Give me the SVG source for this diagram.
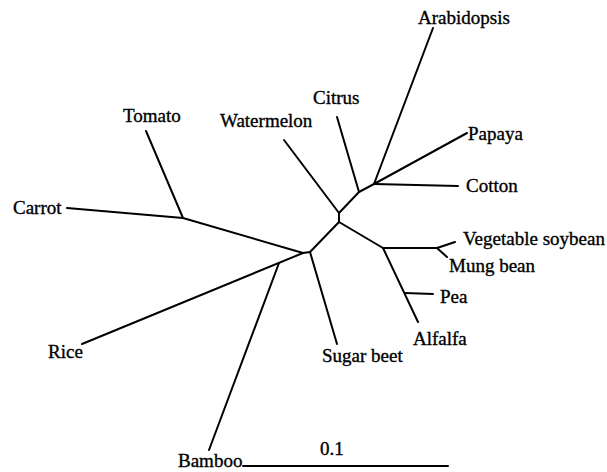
<svg xmlns="http://www.w3.org/2000/svg" width="607" height="472" viewBox="0 0 607 472">
<style>
.e{stroke:#000;stroke-width:2;fill:none;stroke-linecap:round;stroke-linejoin:round}
text{font-family:"Liberation Serif","Times New Roman",serif;font-size:19px;fill:#000;stroke:#000;stroke-width:0.35}
</style>
<rect width="607" height="472" fill="#fff"/>
<g id="connectors">
<path class="e" d="M67,208 L183,218 L303,253 L310,252"/>
<path class="e" d="M146,131 L183,218"/>
<path class="e" d="M303,253 L82,344"/>
<path class="e" d="M279,263 L209,450"/>
<path class="e" d="M310,252 L337,344"/>
<path class="e" d="M310,252 L339,222 L339,213"/>
<path class="e" d="M284,140 L339,213"/>
<path class="e" d="M339,213 L359,192 L374,184"/>
<path class="e" d="M337,117 L359,192"/>
<path class="e" d="M374,184 L433,28"/>
<path class="e" d="M374,184 L467,133"/>
<path class="e" d="M374,184 L458,186"/>
<path class="e" d="M339,222 L383,248 L437,248"/>
<path class="e" d="M437,248 L455,242"/>
<path class="e" d="M437,248 L447,257"/>
<path class="e" d="M383,248 L418,322"/>
<path class="e" d="M405,293 L433,294"/>
<path class="e" d="M243,466 L448,466"/>
</g>
<g id="n-arabidopsis"><text x="418" y="24">Arabidopsis</text></g>
<g id="n-citrus"><text x="313" y="104">Citrus</text></g>
<g id="n-papaya"><text x="468" y="140">Papaya</text></g>
<g id="n-tomato"><text x="123" y="122">Tomato</text></g>
<g id="n-watermelon"><text x="220" y="127">Watermelon</text></g>
<g id="n-cotton"><text x="466" y="192">Cotton</text></g>
<g id="n-carrot"><text x="13" y="214">Carrot</text></g>
<g id="n-vegsoy"><text x="463" y="245">Vegetable soybean</text></g>
<g id="n-mung"><text x="449" y="272">Mung bean</text></g>
<g id="n-pea"><text x="440" y="303">Pea</text></g>
<g id="n-alfalfa"><text x="413" y="345">Alfalfa</text></g>
<g id="n-sugarbeet"><text x="322" y="362">Sugar beet</text></g>
<g id="n-rice"><text x="48" y="358">Rice</text></g>
<g id="n-bamboo"><text x="178" y="467">Bamboo</text></g>
<g id="scale"><text x="320" y="455">0.1</text></g>
</svg>
